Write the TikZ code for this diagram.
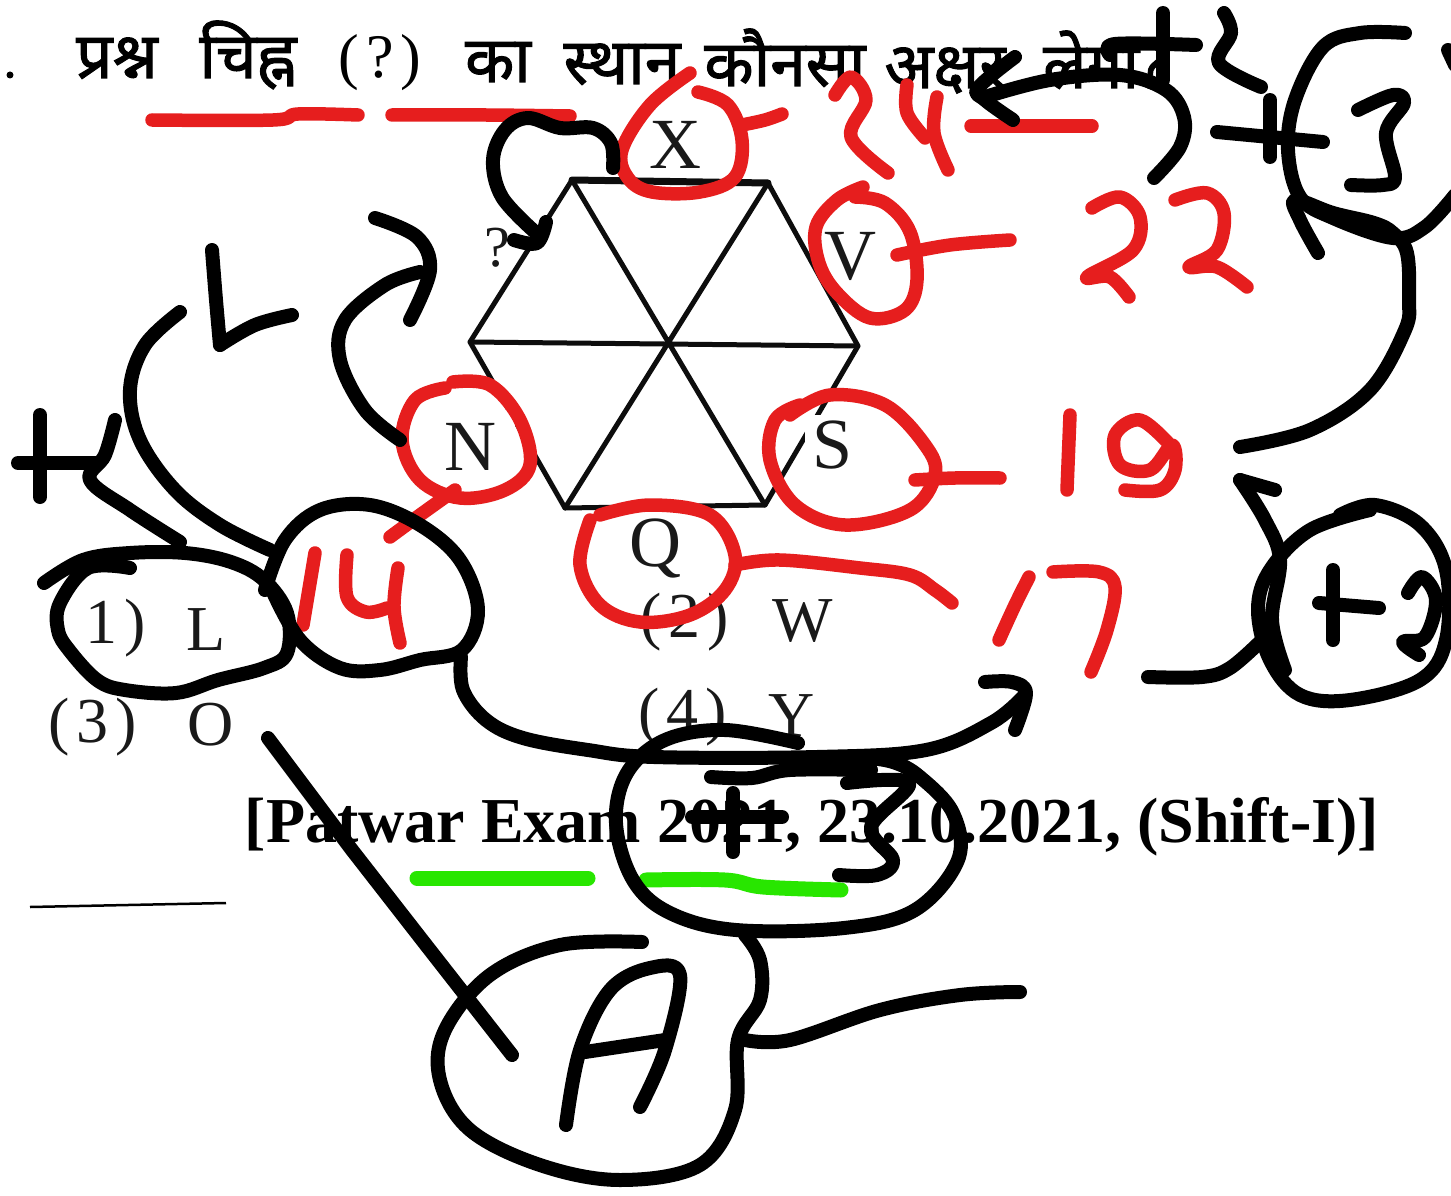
\documentclass[tikz,border=0pt]{standalone}
\usepackage{fontspec}
\setmainfont{Liberation Serif}
\newfontfamily\hindi[Script=Devanagari,FakeBold=1.6]{Noto Sans}
\definecolor{inkred}{HTML}{E61E1E}
\definecolor{inkgreen}{HTML}{28E600}
\tikzset{
  blk/.style={draw=black,line width=14pt,line cap=round,line join=round},
  rd/.style={draw=inkred,line width=13.5pt,line cap=round,line join=round},
  grn/.style={draw=inkgreen,line width=15pt,line cap=round,line join=round},
  hexline/.style={draw=black!95,line width=5pt,line cap=round,line join=round},
  hn/.style={font=\hindi\fontsize{64}{70}\selectfont,anchor=base,text=black},
  let/.style={font=\fontsize{72}{80}\selectfont,text=black!90},
  opt/.style={font=\fontsize{64}{70}\selectfont,text=black!90},
  exam/.style={font=\bfseries\fontsize{64}{70}\selectfont,text=black},
}
\newcommand\crv[2]{\draw[#1] plot[smooth,tension=.6] coordinates {#2};}
\newcommand\gp{\hspace{7pt}}
\begin{document}
\begin{tikzpicture}[x=1pt,y=-1pt]
\useasboundingbox (0,0) rectangle (1451,1196);
\fill[white] (0,0) rectangle (1451,1196);
% printed question
\fill[black] (10,75) circle (3.5pt);
\node[hn] (w1) at (117,78) {प्रश्न};
\node[hn] (w2) at (248,78) {चिह्न};
\node[hn,font=\fontsize{62}{70}\selectfont] (w3) at (380,78) {(\gp?\gp)};
\node[hn] (w4) at (498,82) {का};
\node[hn] (w5) at (622,84) {स्थान};
\node[hn] (w6) at (785,86) {कौनसा};
\node[hn] (w7) at (945,88) {अक्षर};
\node[hn] (w8) at (1105,88) {लेगा?};
% hexagon
\coordinate (c) at (667,345);
\coordinate (h1) at (572,180);
\coordinate (h2) at (768,183);
\coordinate (h3) at (858,346);
\coordinate (h4) at (765,505);
\coordinate (h5) at (565,508);
\coordinate (h6) at (470,342);
\draw[hexline] (h1)--(h2)--(h3)--(h4)--(h5)--(h6)--cycle;
\draw[hexline] (h1)--(h4) (h2)--(h5) (h3)--(h6);
\draw[hexline,line width=7pt] (h1)--(h2);
\fill[white] (425,410) rectangle (515,480);
\fill[white] (805,415) rectangle (860,480);
\fill[white] (620,514) rectangle (690,580);
\node[let] (x) at (675,145) {X};
\node[let] (v) at (850,256) {V};
\node[let] (n) at (470,447) {N};
\node[let] (s) at (833,445) {S};
\node[let] (q) at (655,548) {Q};
\node[let,font=\fontsize{58}{60}\selectfont] (qm) at (497,248) {?};
% options
\node[opt] (o1) at (116,628) {1\gp)};
\node[opt] (o1l) at (206,630) {L};
\node[opt] (o2) at (685,622) {(\gp2\gp)};
\node[opt] (o2l) at (803,621) {W};
\node[opt] (o3) at (93,727) {(\gp3\gp)};
\node[opt] (o3l) at (211,725) {O};
\node[opt] (o4) at (683,717) {(\gp4\gp)};
\node[opt] (o4l) at (792,716) {Y};
\node[exam,anchor=base] (ex) at (812,842) {[Patwar Exam 2021, 23.10.2021, (Shift-I)]};
\draw[black,line width=2.5pt] (30,907) -- (226,903);
% red ink
\crv{rd}{(152,120)(273,120)(298,114)(358,115)}
\crv{rd}{(392,115)(486,115)(570,116)}
\crv{rd}{(690,73)(650,105)(622,150)(628,178)(652,192)(700,192)(735,177)(742,140)(728,105)(698,92)}
\crv{rd}{(742,125)(765,120)(782,114)}
\crv{rd}{(835,95)(851,77)(866,100)(851,137)(888,173)}
\crv{rd}{(907,85)(907,113)(925,138)}
\crv{rd}{(937,97)(934,133)(948,170)}
\draw[rd] (971,126) -- (1092,126);
\crv{rd}{(863,187)(837,200)(816,227)(819,263)(837,293)(870,318)(905,310)(917,280)(910,232)(885,203)(855,197)}
\crv{rd}{(897,255)(950,245)(1010,240)}
\crv{rd}{(1092,208)(1120,197)(1140,217)(1133,250)(1087,277)(1110,277)(1129,297)}
\crv{rd}{(1175,200)(1207,193)(1224,213)(1217,250)(1189,267)(1217,267)(1247,287)}
\crv{rd}{(453,382)(490,385)(520,420)(530,465)(505,490)(460,498)(420,480)(402,440)(415,400)(445,388)}
\crv{rd}{(455,490)(420,515)(390,537)}
\crv{rd}{(790,415)(830,395)(885,405)(925,445)(935,475)(910,510)(845,525)(795,505)(770,460)(775,420)(800,405)}
\crv{rd}{(915,480)(955,478)(1000,478)}
\draw[rd] (1070,415) -- (1067,490);
\crv{rd}{(1170,445)(1140,420)(1115,435)(1120,465)(1150,470)(1172,445)(1175,470)(1160,490)(1125,490)}
\crv{rd}{(600,515)(650,505)(710,515)(735,555)(725,590)(690,615)(640,622)(600,605)(580,565)(590,520)}
\crv{rd}{(735,565)(780,560)(860,568)(910,575)(935,590)(952,603)}
\draw[rd] (315,553) -- (303,625);
\crv{rd}{(347,555)(347,597)(366,612)(387,608)}
\crv{rd}{(398,568)(394,607)(400,643)}
\crv{rd}{(1029,577)(1015,605)(999,640)}
\crv{rd}{(1053,572)(1099,572)(1115,587)(1107,630)(1091,672)}
% green ink
\draw[grn] (417,878) -- (588,878);
\crv{grn}{(646,880)(725,880)(763,887)(841,890)}
% black ink: top
\crv{blk}{(613,168)(611,143)(593,128)(560,128)(528,118)(505,130)(493,160)(502,197)(535,232)}
\crv{blk}{(514,240)(537,243)(546,222)}
\crv{blk}{(400,440)(365,410)(340,360)(345,320)(385,285)(420,272)}
\crv{blk}{(375,218)(417,237)(430,270)(410,320)}
\crv{blk}{(212,250)(216,300)(220,345)}
\crv{blk}{(220,345)(255,325)(292,315)}
\crv{blk}{(180,312)(145,345)(130,390)(140,440)(175,490)(220,525)(270,550)}
\draw[blk] (40,415) -- (40,497);
\draw[blk] (18,463) -- (95,463);
\crv{blk}{(115,420)(105,455)(90,480)(130,510)(180,542)}
\crv{blk}{(44,583)(83,560)(130,553)(185,553)(231,562)(264,580)(287,613)(287,653)(264,668)(218,680)(176,693)(125,690)(97,680)(69,650)(58,630)(60,603)(88,568)(130,568)}
\crv{blk}{(265,590)(285,540)(320,510)(370,505)(420,525)(460,560)(478,610)(462,650)(420,660)(380,670)(340,668)(300,640)(272,590)}
\crv{blk}{(461,657)(463,690)(486,720)(523,738)(588,750)(654,757)(817,757)(926,750)(991,723)(1023,697)}
\crv{blk}{(985,682)(1012,682)(1026,693)(1015,730)}
\crv{blk}{(798,743)(725,730)(665,740)(627,773)(616,823)(633,880)(670,913)(736,930)(844,928)(915,910)(958,860)(953,813)(920,777)(893,762)(860,757)}
\crv{blk}{(711,777)(752,778)(790,770)(871,770)}
\draw[blk] (733,793) -- (733,852);
\draw[blk] (692,817) -- (782,817);
\crv{blk}{(847,783)(909,783)(871,827)(893,860)(877,875)(839,875)}
% black ink: right side
\crv{blk}{(1148,677)(1202,677)(1230,668)(1262,640)}
\crv{blk}{(1340,515)(1375,505)(1420,525)(1446,570)(1446,640)(1420,680)(1350,700)(1300,695)(1270,660)(1258,610)(1270,570)(1310,530)(1370,510)}
\crv{blk}{(1240,480)(1265,520)(1280,560)(1272,620)(1285,670)}
\draw[blk] (1240,480) -- (1275,490);
\draw[blk] (1333,570) -- (1333,640);
\draw[blk] (1319,603) -- (1379,608);
\crv{blk}{(1408,593)(1422,577)(1436,600)(1425,637)(1403,642)(1419,655)}
\crv{blk}{(1405,33)(1360,33)(1323,47)(1295,100)(1288,150)(1300,197)(1333,218)(1393,238)(1425,227)(1455,195)}
\crv{blk}{(1318,253)(1300,220)(1295,200)(1333,213)(1374,223)(1393,233)(1407,253)(1409,300)(1405,330)(1370,390)(1310,430)(1240,447)}
\draw[blk] (1448,50) -- (1455,65);
\crv{blk}{(1358,110)(1393,95)(1404,103)(1386,133)(1395,177)(1383,185)(1351,185)}
\draw[blk] (1270,100) -- (1270,157);
\draw[blk] (1217,132) -- (1323,142);
\draw[blk] (1163,13) -- (1163,80);
\crv{blk}{(1110,55)(1115,44)(1196,45)}
\crv{blk}{(1224,13)(1231,33)(1219,63)(1261,87)}
\crv{blk}{(1015,57)(978,88)(985,100)(1013,120)}
\crv{blk}{(985,97)(1050,80)(1120,75)(1166,90)(1184,117)(1180,147)(1154,178)}
% A
\crv{blk}{(642,942)(560,945)(490,975)(445,1030)(440,1080)(470,1130)(540,1165)(620,1180)(700,1165)(735,1110)(738,1040)(760,1000)(760,960)(745,935)}
\crv{blk}{(745,1040)(790,1040)(880,1010)(960,995)(1020,992)}
\draw[blk] (268,738) -- (352,850) -- (426,945) -- (512,1055);
\crv{blk}{(566,1125)(580,1050)(610,990)(650,968)(680,975)(665,1050)(640,1107)}
\draw[blk] (585,1052) -- (665,1040);
\end{tikzpicture}
\end{document}
